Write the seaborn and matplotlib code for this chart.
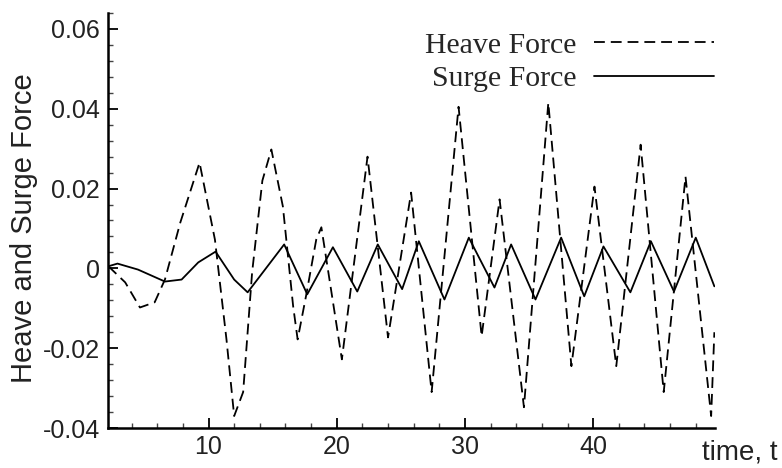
import numpy as np
import pandas as pd
import matplotlib
matplotlib.use("Agg")
import matplotlib.pyplot as plt
import seaborn as sns
from matplotlib.ticker import FixedLocator, MultipleLocator, FixedFormatter

# ---- data ----
heave_t = [2.2, 3.5, 4.65, 5.8, 6.6, 7.8, 9.3, 10.5, 11.4, 12.0, 12.7, 13.4, 14.2,
           14.9, 15.8, 16.6, 16.95, 17.6, 18.4, 18.8, 20.4, 22.4, 24.0, 25.8, 27.4,
           29.5, 31.3, 32.7, 34.6, 36.5, 38.3, 40.1, 41.8, 43.7, 45.5, 47.2, 49.2, 49.45]
heave_v = [0.0005, -0.0035, -0.0098, -0.0085, -0.0028, 0.0115, 0.0265, 0.0072, -0.0178,
           -0.037, -0.031, -0.001, 0.022, 0.0298, 0.0155, -0.0095, -0.0178, -0.007, 0.0072,
           0.0103, -0.0228, 0.028, -0.0173, 0.019, -0.031, 0.0405, -0.017, 0.0173, -0.0348,
           0.0415, -0.0245, 0.0205, -0.0245, 0.031, -0.031, 0.023, -0.037, -0.016]

surge_t = [2.16, 2.9, 4.5, 6.6, 7.9, 9.2, 10.55, 12.0, 13.05, 15.9, 17.7, 19.7, 21.6,
           23.2, 25.1, 26.4, 28.4, 30.3, 32.3, 33.6, 35.5, 37.5, 39.3, 40.8, 42.9, 44.5,
           46.3, 48.0, 49.45]
surge_v = [0.0005, 0.0012, -0.0003, -0.0033, -0.0028, 0.0015, 0.0042, -0.0028, -0.006,
           0.006, -0.0065, 0.0053, -0.0058, 0.006, -0.0052, 0.0068, -0.0078, 0.0077,
           -0.0048, 0.006, -0.0078, 0.0077, -0.007, 0.0055, -0.006, 0.0068, -0.0058,
           0.0077, -0.0045]

series_names = ["Heave Force", "Surge Force"]
xtick_vals = [10, 20, 30, 40]
xtick_labels = ["10", "20", "30", "40"]
ytick_vals = [0.06, 0.04, 0.02, 0.0, -0.02, -0.04]
ytick_labels = ["0.06", "0.04", "0.02", "0", "-0.02", "-0.04"]

heave_df = pd.DataFrame({"t": heave_t, "force": heave_v})
surge_df = pd.DataFrame({"t": surge_t, "force": surge_v})

sns.set_theme(style="ticks")
plt.rcParams["font.family"] = ["Liberation Sans", "DejaVu Sans"]
plt.rcParams["lines.dashed_pattern"] = [6.0, 3.3]

fig = plt.figure(figsize=(7.82, 4.68), dpi=100)
ax = fig.add_axes([108 / 782, 40 / 468, 607 / 782, 415 / 468])

sns.lineplot(data=heave_df, x="t", y="force", ax=ax, color="black", lw=1.3,
             ls="--", label=series_names[0], sort=False)
sns.lineplot(data=surge_df, x="t", y="force", ax=ax, color="black", lw=1.3,
             label=series_names[1], sort=False)

ax.set_xlim(2.16, 49.5)
ax.set_ylim(-0.04, 0.064)

ax.xaxis.set_major_locator(FixedLocator(xtick_vals))
ax.xaxis.set_major_formatter(FixedFormatter(xtick_labels))
ax.xaxis.set_minor_locator(MultipleLocator(2))
ax.yaxis.set_major_locator(FixedLocator(ytick_vals))
ax.yaxis.set_major_formatter(FixedFormatter(ytick_labels))
ax.yaxis.set_minor_locator(MultipleLocator(0.004))

ax.tick_params(axis="both", which="major", direction="in", length=7, width=1.3,
               labelsize=18, color="black", labelcolor="#222222")
ax.tick_params(axis="x", which="major", pad=5)
ax.tick_params(axis="y", which="major", pad=6)
ax.tick_params(axis="both", which="minor", direction="in", length=3.5, width=1.0,
               color="#444444")

for s in ["top", "right"]:
    ax.spines[s].set_visible(False)
for s in ["left", "bottom"]:
    ax.spines[s].set_linewidth(1.8)
    ax.spines[s].set_color("black")

ax.set_ylabel("Heave and Surge Force", fontsize=21, color="#222222")
ax.set_xlabel("time, t", fontsize=20, color="#222222")
ax.yaxis.set_label_coords(-0.115, 0.482)
ax.xaxis.set_label_coords(1.04, -0.028)

leg = ax.legend(loc="upper right", bbox_to_anchor=(0.998, 0.955), frameon=False,
                markerfirst=False, prop={"family": "Liberation Serif", "size": 21.5},
                handlelength=4.0, handletextpad=0.6, labelspacing=0.22,
                borderpad=0, borderaxespad=0)
for line in leg.get_lines():
    line.set_linewidth(1.3)

fig.savefig("out.png", dpi=100)
